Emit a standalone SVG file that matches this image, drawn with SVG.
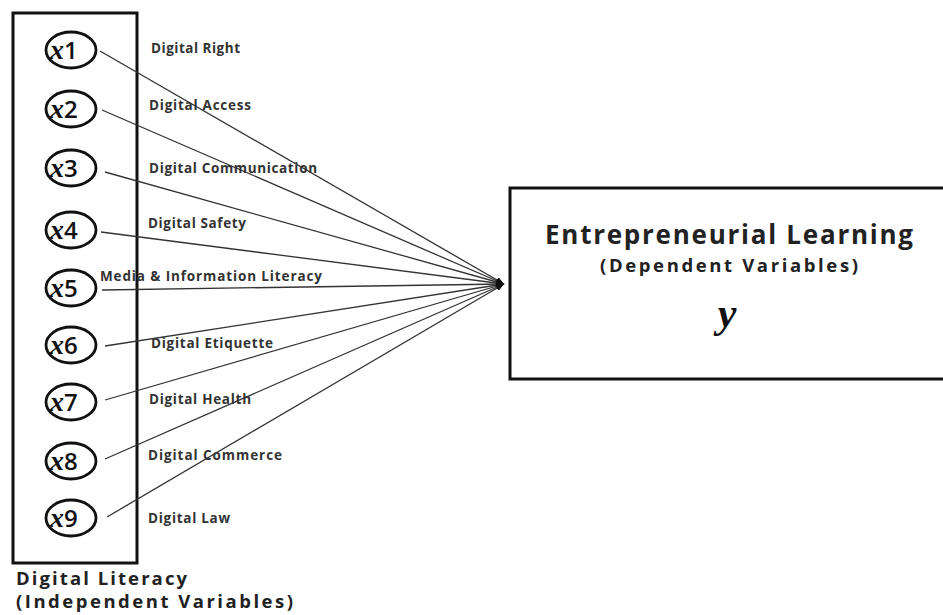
<svg xmlns="http://www.w3.org/2000/svg" width="943" height="615" viewBox="0 0 943 615">
<defs>
<marker id="arr" viewBox="0 0 10 10" refX="10" refY="5" markerWidth="8" markerHeight="8" markerUnits="userSpaceOnUse" orient="auto">
<path d="M0,1 L10,5 L0,9 z" fill="#111"/>
</marker>
</defs>
<style>
.box{fill:#fff;stroke:#111;stroke-width:3}
.node ellipse{fill:#fff;stroke:#111;stroke-width:2.8}
.xv{font-family:"Liberation Serif",serif;font-style:italic;font-weight:bold;font-size:28px;fill:#111}
.dg{font-family:"Open Sans","Liberation Sans",sans-serif;font-weight:600;font-size:24px;fill:#111}
.lbl{font-family:"Open Sans","Liberation Sans",sans-serif;font-weight:bold;font-size:13.5px;fill:#333}
.conn line{stroke:#333;stroke-width:1.3;marker-end:url(#arr)}
.big{font-family:"Open Sans","Liberation Sans",sans-serif;font-weight:bold;fill:#222}
</style>
<rect class="box" x="13" y="13" width="124" height="550"/>
<rect class="box" x="510" y="188" width="440" height="191"/>
<g id="connectors" class="conn">
<line x1="100" y1="51" x2="504" y2="284"/>
<line x1="102" y1="110" x2="504" y2="284"/>
<line x1="105" y1="172" x2="504" y2="284"/>
<line x1="101" y1="232" x2="504" y2="284"/>
<line x1="102" y1="290" x2="504" y2="284"/>
<line x1="105" y1="346" x2="504" y2="284"/>
<line x1="105" y1="400" x2="504" y2="284"/>
<line x1="105" y1="459" x2="504" y2="284"/>
<line x1="107" y1="517" x2="504" y2="284"/>
</g>
<g id="x1" class="node"><ellipse cx="71" cy="50" rx="25" ry="18"/><text x="50" y="59"><tspan class="xv">x</tspan><tspan class="dg">1</tspan></text></g>
<g id="x2" class="node"><ellipse cx="71" cy="109" rx="25" ry="18"/><text x="50" y="118"><tspan class="xv">x</tspan><tspan class="dg">2</tspan></text></g>
<g id="x3" class="node"><ellipse cx="71" cy="168" rx="25" ry="18"/><text x="50" y="177"><tspan class="xv">x</tspan><tspan class="dg">3</tspan></text></g>
<g id="x4" class="node"><ellipse cx="71" cy="230" rx="25" ry="18"/><text x="50" y="239"><tspan class="xv">x</tspan><tspan class="dg">4</tspan></text></g>
<g id="x5" class="node"><ellipse cx="71" cy="288" rx="25" ry="18"/><text x="50" y="297"><tspan class="xv">x</tspan><tspan class="dg">5</tspan></text></g>
<g id="x6" class="node"><ellipse cx="71" cy="345" rx="25" ry="18"/><text x="50" y="354"><tspan class="xv">x</tspan><tspan class="dg">6</tspan></text></g>
<g id="x7" class="node"><ellipse cx="71" cy="402" rx="25" ry="18"/><text x="50" y="411"><tspan class="xv">x</tspan><tspan class="dg">7</tspan></text></g>
<g id="x8" class="node"><ellipse cx="71" cy="461" rx="25" ry="18"/><text x="50" y="470"><tspan class="xv">x</tspan><tspan class="dg">8</tspan></text></g>
<g id="x9" class="node"><ellipse cx="71" cy="518" rx="25" ry="18"/><text x="50" y="527"><tspan class="xv">x</tspan><tspan class="dg">9</tspan></text></g>
<g id="labels">
<text class="lbl" x="151" y="53" textLength="89">Digital Right</text>
<text class="lbl" x="149" y="110" textLength="102">Digital Access</text>
<text class="lbl" x="149" y="173" textLength="168">Digital Communication</text>
<text class="lbl" x="148" y="228" textLength="98">Digital Safety</text>
<text class="lbl" x="100" y="281" textLength="222">Media &amp; Information Literacy</text>
<text class="lbl" x="151" y="348" textLength="122">Digital Etiquette</text>
<text class="lbl" x="149" y="404" textLength="102">Digital Health</text>
<text class="lbl" x="148" y="460" textLength="134">Digital Commerce</text>
<text class="lbl" x="148" y="523" textLength="82">Digital Law</text>
</g>
<g id="dl-label">
<text class="big" x="16" y="585" font-size="18.5" textLength="171">Digital Literacy</text>
<text class="big" x="16" y="608" font-size="18.5" textLength="277">(Independent Variables)</text>
</g>
<g id="y">
<text class="big" x="545" y="244" font-size="26" textLength="368">Entrepreneurial Learning</text>
<text class="big" x="600" y="272" font-size="18.5" textLength="258">(Dependent Variables)</text>
<text x="727" y="327" text-anchor="middle" font-family="Liberation Serif,serif" font-style="italic" font-weight="bold" font-size="42" fill="#111">y</text>
</g>
</svg>
